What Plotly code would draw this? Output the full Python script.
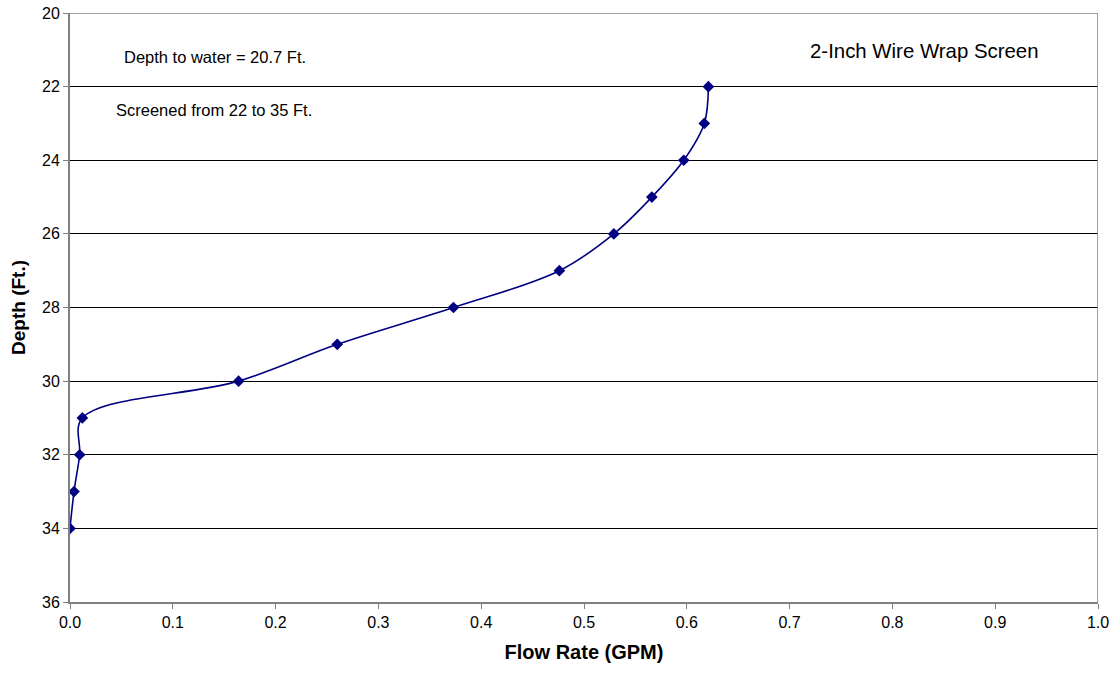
import plotly.graph_objects as go

depth_ft = [22, 23, 24, 25, 26, 27, 28, 29, 30, 31, 32, 33, 34]
flow_gpm = [0.621, 0.617, 0.597, 0.566, 0.529, 0.476, 0.373, 0.260, 0.164, 0.012, 0.0094, 0.0039, 0.0]

x_ticks = [0.0, 0.1, 0.2, 0.3, 0.4, 0.5, 0.6, 0.7, 0.8, 0.9, 1.0]
y_ticks = [20, 22, 24, 26, 28, 30, 32, 34, 36]

notes = ["Depth to water = 20.7 Ft.", "Screened from 22 to 35 Ft."]
title_note = "2-Inch Wire Wrap Screen"

FONT = "Liberation Sans, Arial, sans-serif"
NAVY = "#000080"

L, R, T, B = 70, 20, 13, 73
PW, PH = 1118 - L - R, 675 - T - B


def px_x(px):
    return (px - L) / PW


def px_y(py):
    return 1 - (py - T) / PH


fig = go.Figure()
fig.add_trace(go.Scatter(
    x=flow_gpm, y=depth_ft, mode="lines+markers",
    line=dict(color=NAVY, width=1.6, shape="spline", smoothing=1.0),
    marker=dict(symbol="diamond", size=9, color=NAVY),
    showlegend=False, hoverinfo="x+y",
))

fig.update_layout(
    width=1118, height=675,
    margin=dict(l=L, r=R, t=T, b=B),
    paper_bgcolor="white", plot_bgcolor="white",
    font=dict(family=FONT, size=16, color="black"),
    xaxis=dict(
        range=[0, 1.0], tickvals=x_ticks, tickformat=".1f",
        showgrid=False, zeroline=False,
        showline=True, linecolor="#808080", linewidth=2, mirror=False,
        ticks="outside", ticklen=5, tickcolor="#808080", tickwidth=1,
        tickfont=dict(size=16, family=FONT),
        title=dict(text="<b>Flow Rate (GPM)</b>", font=dict(size=20, family=FONT), standoff=15),
        automargin=False,
    ),
    yaxis=dict(
        range=[36, 20], tickvals=y_ticks,
        showgrid=True, gridcolor="black", gridwidth=1, zeroline=False,
        showline=True, linecolor="#808080", linewidth=2,
        ticks="outside", ticklen=5, tickcolor="#808080", tickwidth=1,
        tickfont=dict(size=16, family=FONT),
        title=dict(text="<b>Depth (Ft.)</b>", font=dict(size=19, family=FONT), standoff=11),
        automargin=False,
    ),
    shapes=[
        dict(type="line", xref="x", yref="y", x0=0, x1=1.0, y0=20, y1=20,
             line=dict(color="#808080", width=1.5)),
        dict(type="line", xref="x", yref="y", x0=1.0, x1=1.0, y0=20, y1=36,
             line=dict(color="#808080", width=1.5)),
    ],
    annotations=[
        dict(text=notes[0], xref="paper", yref="paper", x=px_x(122), y=px_y(57),
             xanchor="left", yanchor="middle", showarrow=False, font=dict(size=16.5, family=FONT)),
        dict(text=notes[1], xref="paper", yref="paper", x=px_x(114), y=px_y(110),
             xanchor="left", yanchor="middle", showarrow=False, font=dict(size=16.5, family=FONT)),
        dict(text=title_note, xref="paper", yref="paper", x=px_x(808), y=px_y(51),
             xanchor="left", yanchor="middle", showarrow=False, font=dict(size=20.4, family=FONT)),
    ],
)

fig.write_html("out.html")
